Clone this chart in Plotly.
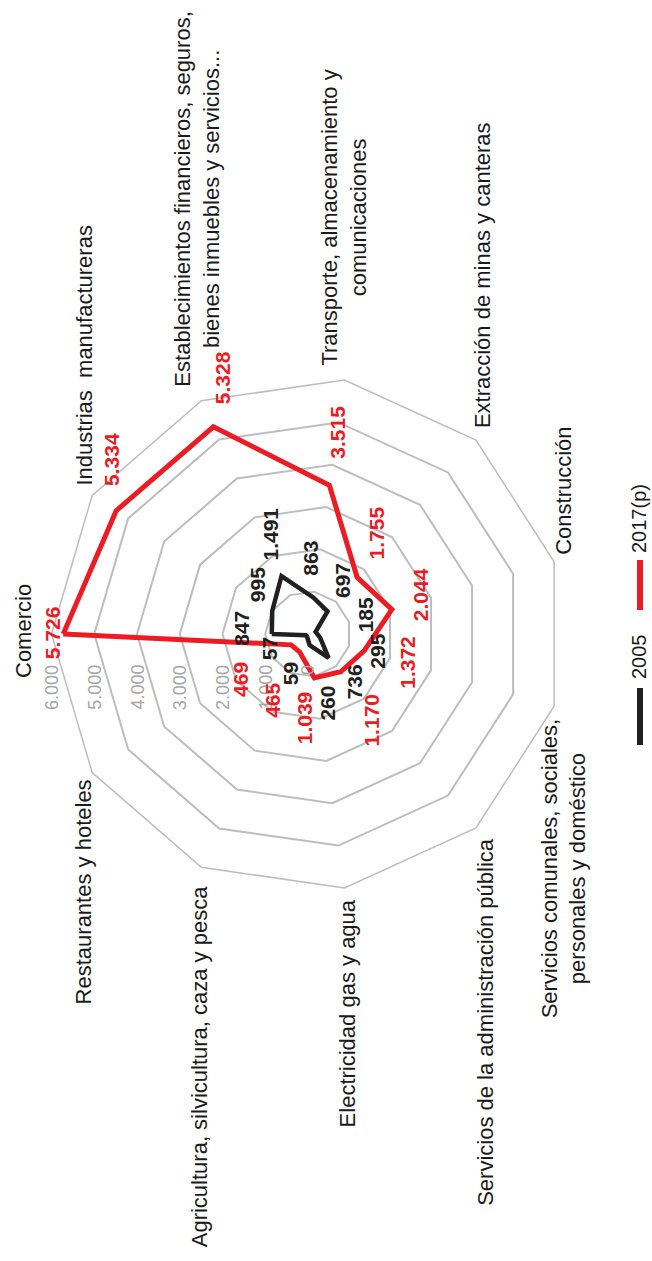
import math
import plotly.graph_objects as go

# ---------------- data ----------------
categories = [
    "Comercio",
    "Industrias  manufactureras",
    "Establecimientos financieros, seguros,<br>bienes inmuebles y servicios...",
    "Transporte, almacenamiento y<br>comunicaciones",
    "Extracción de minas y canteras",
    "Construcción",
    "Servicios comunales, sociales,<br>personales y doméstico",
    "Servicios de la administración pública",
    "Electricidad gas y agua",
    "Agricultura, silvicultura, caza y pesca",
    "Restaurantes y hoteles",
]
values_2005 = [847, 995, 1491, 863, 697, 185, 295, 736, 260, 59, 57]
values_2017 = [5726, 5334, 5328, 3515, 1755, 2044, 1372, 1170, 1039, 465, 469]
series_names = ["2005", "2017(p)"]
radial_ticks = [0, 1000, 2000, 3000, 4000, 5000, 6000]
radial_tick_labels = ["0", "1.000", "2.000", "3.000", "4.000", "5.000", "6.000"]

# ---------------- styles / layout geometry ----------------
W, H = 652, 1261
CX, CY, RPX = 308, 634, 256.5
RMAX = 6000
RED = "#ed1c24"
BLACK = "#231f20"
GRID = "#bdbdbd"
FONT = "Liberation Sans, Arial, sans-serif"

# per-category label placement relative to outer vertex (dx, dy, xanchor, yanchor)
cat_place = [
    (-14, -3, "right", "middle"),
    (-8, -8, "center", "bottom"),
    (-4, -12, "center", "bottom"),
    (0, -12, "center", "bottom"),
    (6, -10, "center", "bottom"),
    (10, -5, "center", "bottom"),
    (10, 10, "center", "top"),
    (10, 8, "center", "top"),
    (3, 10, "center", "top"),
    (-2, 17, "center", "top"),
    (-9, 5, "center", "top"),
]
# value label offsets (label centre relative to the data point, px)
off_2017 = [(-11, -1), (-4, -51), (9, -49), (8, -53), (19, -44), (29, -15),
            (43, 12), (31, 48), (-9, 40), (-28, 48), (-50, 35)]
off_2005 = [(-31, -6), (-15, -26), (-12, -42), (-3, -39), (15, -31), (50, -17),
            (57, 14), (26, 24), (17, 58), (-17, 37), (-37, 13)]

n = len(categories)


def to_px(r, i):
    th = math.radians(180 - i * 360.0 / n)
    return CX + r / RMAX * RPX * math.cos(th), CY - r / RMAX * RPX * math.sin(th)


def fmt(v):
    return f"{v:,}".replace(",", ".")


def paper(px, py):
    return px / W, 1 - py / H


fig = go.Figure()
for vals, name, col, lw in [(values_2005, series_names[0], BLACK, 4.5),
                            (values_2017, series_names[1], RED, 5)]:
    fig.add_trace(go.Scatterpolar(
        r=vals + vals[:1], theta=categories + categories[:1], mode="lines",
        line=dict(color=col, width=lw), name=name, showlegend=False,
        hoverinfo="skip"))

annotations = []
# category labels
for i, cat in enumerate(categories):
    vx, vy = to_px(RMAX, i)
    dx, dy, xa, ya = cat_place[i]
    x, y = paper(vx + dx, vy + dy)
    annotations.append(dict(x=x, y=y, xref="paper", yref="paper", text=cat,
                            showarrow=False, textangle=-90, xanchor=xa, yanchor=ya,
                            align="center", font=dict(family=FONT, size=22, color="#1a1a1a")))
# radial tick labels
for v, t in zip(radial_ticks, radial_tick_labels):
    px, py = to_px(v, 0)
    x, y = paper(px, CY + 29)
    annotations.append(dict(x=x, y=y, xref="paper", yref="paper", text=t,
                            showarrow=False, textangle=-90, xanchor="center", yanchor="top",
                            font=dict(family=FONT, size=18, color="#a6a6a6")))
# value labels
for vals, offs, col in [(values_2005, off_2005, BLACK), (values_2017, off_2017, RED)]:
    for i, v in enumerate(vals):
        px, py = to_px(v, i)
        x, y = paper(px + offs[i][0], py + offs[i][1])
        annotations.append(dict(x=x, y=y, xref="paper", yref="paper", text=f"<b>{fmt(v)}</b>",
                                showarrow=False, textangle=-90, xanchor="center", yanchor="middle",
                                font=dict(family=FONT, size=21, color=col)))

# legend (rotated)
shapes = []
for (y0, y1), col in [((688, 745), BLACK), ((560, 610), RED)]:
    x0p, y0p = paper(640, y0)
    x1p, y1p = paper(640, y1)
    shapes.append(dict(type="line", xref="paper", yref="paper", x0=x0p, x1=x1p,
                       y0=y0p, y1=y1p, line=dict(color=col, width=6)))
for name, cy in zip(series_names, [657, 519]):
    x, y = paper(639, cy)
    annotations.append(dict(x=x, y=y, xref="paper", yref="paper", text=name,
                            showarrow=False, textangle=-90, xanchor="center", yanchor="middle",
                            font=dict(family=FONT, size=20, color="#1a1a1a")))

fig.update_layout(
    width=W, height=H, margin=dict(l=0, r=0, t=0, b=0),
    paper_bgcolor="white", plot_bgcolor="white", showlegend=False,
    polar=dict(
        domain=dict(x=[(CX - RPX) / W, (CX + RPX) / W],
                    y=[1 - (CY + RPX) / H, 1 - (CY - RPX) / H]),
        bgcolor="white", gridshape="linear",
        radialaxis=dict(range=[0, RMAX], tickvals=radial_ticks, showticklabels=False,
                        ticks="", showline=False, gridcolor=GRID, gridwidth=1.5),
        angularaxis=dict(type="category", categoryarray=categories, rotation=180,
                         direction="clockwise", showticklabels=False, ticks="",
                         showgrid=False, showline=True, linecolor=GRID, linewidth=1.5),
    ),
    annotations=annotations, shapes=shapes,
)
fig.write_html("out.html", config={"displayModeBar": False},
               post_script="document.body.style.margin='0px';document.body.style.overflow='hidden';")
